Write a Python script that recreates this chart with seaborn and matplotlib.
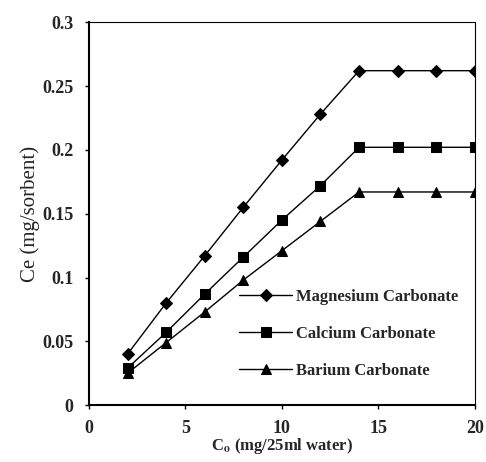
import numpy as np
import pandas as pd
import seaborn as sns
import matplotlib
matplotlib.use('Agg')
import matplotlib.pyplot as plt

# data
c0 = [2, 4, 6, 8, 10, 12, 14, 16, 18, 20]
magnesium = [0.040, 0.080, 0.117, 0.155, 0.192, 0.228, 0.262, 0.262, 0.262, 0.262]
calcium = [0.029, 0.057, 0.087, 0.116, 0.145, 0.172, 0.202, 0.202, 0.202, 0.202]
barium = [0.025, 0.049, 0.073, 0.098, 0.121, 0.144, 0.167, 0.167, 0.167, 0.167]
names = ['Magnesium Carbonate', 'Calcium Carbonate', 'Barium Carbonate']

frames = []
for name, vals in zip(names, [magnesium, calcium, barium]):
    frames.append(pd.DataFrame({'Co': c0, 'Ce': vals, 'sorbent': name}))
df = pd.concat(frames)

sns.set_theme(style="ticks")
plt.rcParams['font.family'] = ['Liberation Serif', 'DejaVu Serif']
plt.rcParams['mathtext.fontset'] = 'stix'

fig = plt.figure(figsize=(4.86, 4.62), dpi=100)
ax = fig.add_axes([0.183, 0.123, 0.794, 0.829])

sns.lineplot(data=df, x='Co', y='Ce', hue='sorbent', style='sorbent',
             hue_order=names, style_order=names,
             palette=['black'] * 3, markers={names[0]: 'D', names[1]: 's', names[2]: '^'},
             dashes=False, markersize=6.5, linewidth=1.0, markeredgecolor='black', ax=ax)

ax.set_xlim(0, 20)
ax.set_ylim(0, 0.3)
ax.set_xticks([0, 5, 10, 15, 20])
ax.set_yticks([0, 0.05, 0.1, 0.15, 0.2, 0.25, 0.3])
ax.set_yticklabels(['0', '0.05', '0.1', '0.15', '0.2', '0.25', '0.3'])
ax.tick_params(labelsize=13, length=3, width=1, color='black', pad=8)
for lab in ax.get_xticklabels() + ax.get_yticklabels():
    lab.set_fontweight('bold')

ax.spines['left'].set_linewidth(1.5)
ax.spines['bottom'].set_linewidth(1.5)
ax.spines['top'].set_linewidth(0.8)
ax.spines['right'].set_linewidth(0.8)
ax.spines['top'].set_linestyle((0, (1, 1)))
for s in ax.spines.values():
    s.set_color('black')

ax.set_xlabel('C$_{\\mathbf{o}}$ (mg/25ml water)', fontsize=12, fontweight='bold', labelpad=-1)
ax.set_ylabel('Ce (mg/sorbent)', fontsize=15, labelpad=2)

leg = ax.legend(loc='lower right', bbox_to_anchor=(0.995, 0.03), frameon=False,
                fontsize=12, handlelength=3.2, labelspacing=1.25, handletextpad=0.2)
for t in leg.get_texts():
    t.set_fontweight('bold')

plt.savefig('out.png', dpi=100)
